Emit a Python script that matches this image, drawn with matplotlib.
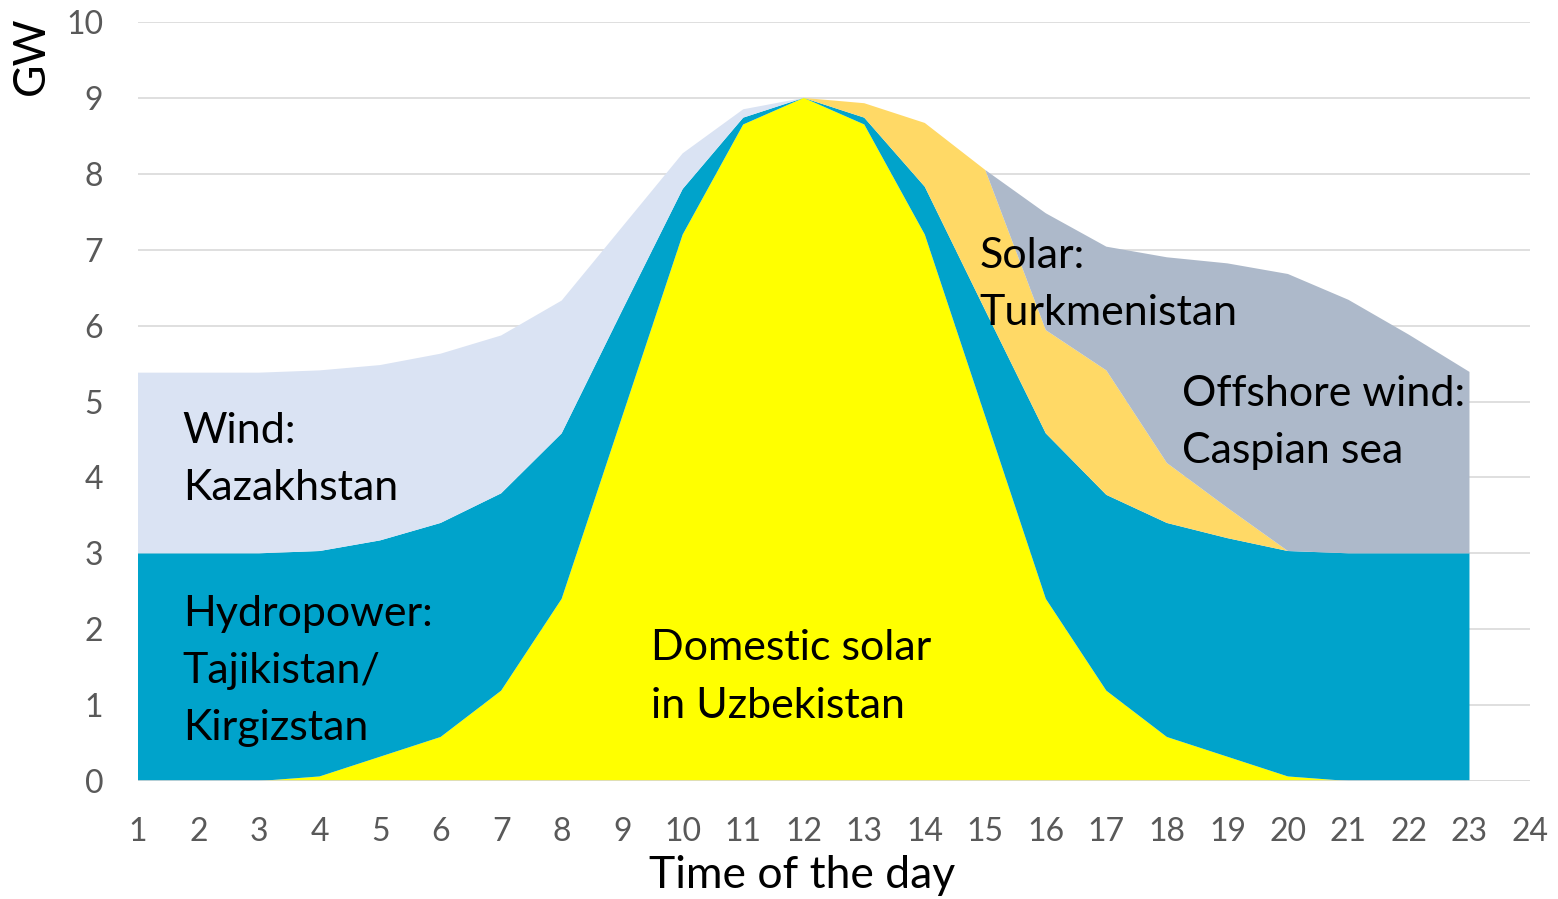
import matplotlib
matplotlib.use("Agg")
import matplotlib.pyplot as plt

# hour of the day
hours = list(range(1, 24))

domestic_solar = [0, 0, 0, 0.06, 0.32, 0.58, 1.19, 2.4, 4.8, 7.2, 8.65, 9.0,
                  8.65, 7.2, 4.8, 2.4, 1.19, 0.58, 0.32, 0.06, 0, 0, 0]
hydropower = [3.0, 3.0, 3.0, 2.97, 2.85, 2.82, 2.6, 2.18, 1.4, 0.6, 0.09, 0,
              0.09, 0.63, 1.4, 2.18, 2.58, 2.82, 2.88, 2.97, 3.0, 3.0, 3.0]
wind_kz = [2.38, 2.38, 2.38, 2.38, 2.31, 2.23, 2.08, 1.75, 1.1, 0.47, 0.11, 0,
           0, 0, 0, 0, 0, 0, 0, 0, 0, 0, 0]
solar_tm = [0, 0, 0, 0, 0, 0, 0, 0, 0, 0, 0, 0,
            0.19, 0.84, 1.85, 1.36, 1.64, 0.79, 0.4, 0, 0, 0, 0]
offshore = [0, 0, 0, 0, 0, 0, 0, 0, 0, 0, 0, 0,
            0, 0, 0, 1.54, 1.63, 2.71, 3.22, 3.65, 3.34, 2.88, 2.39]

colors = ["#FFFF00", "#00A3CB", "#DAE3F3", "#FFD966", "#ADB9CA"]
GREY = "#595959"

plt.rcParams["font.family"] = ["Lato", "DejaVu Sans"]

fig = plt.figure(figsize=(15.58, 8.99), dpi=100)
ax = fig.add_axes([138 / 1558, 1 - 781 / 899, 1392 / 1558, 759 / 899])

ax.stackplot(hours, domestic_solar, hydropower, wind_kz, solar_tm, offshore,
             colors=colors, linewidth=0, zorder=2)

ax.set_xlim(1, 24)
ax.set_ylim(0, 10)
ax.set_xticks(range(1, 25))
ax.set_yticks(range(0, 11))
ax.grid(axis="y", color="#D9D9D9", linewidth=1.2, zorder=0)
ax.set_axisbelow(True)
ax.axhline(0, color="#D9D9D9", linewidth=1.2, zorder=3)
for s in ax.spines.values():
    s.set_visible(False)
ax.tick_params(length=0, labelsize=23, labelcolor=GREY)
ax.tick_params(axis="y", pad=25)
ax.tick_params(axis="x", pad=26)

fs = 31
ls = 1.62
ax.text(1.74, 4.24, "Wind:\nKazakhstan", fontsize=fs, va="center", ha="left",
        linespacing=ls, zorder=4)
ax.text(1.74, 1.45, "Hydropower:\nTajikistan/\nKirgizstan", fontsize=fs,
        va="center", ha="left", linespacing=ls, zorder=4)
ax.text(9.48, 1.37, "Domestic solar\nin Uzbekistan", fontsize=fs, va="center",
        ha="left", linespacing=ls, zorder=4)
ax.text(14.9, 6.54, "Solar:\nTurkmenistan", fontsize=fs, va="center",
        ha="left", linespacing=ls, zorder=4)
ax.text(18.25, 4.72, "Offshore wind:\nCaspian sea", fontsize=fs, va="center",
        ha="left", linespacing=ls, zorder=4)

fig.text(802 / 1558, 1 - 888 / 899, "Time of the day", fontsize=32,
         ha="center", va="baseline")
fig.text(31 / 1558, 1 - 56 / 899, "GW", fontsize=32, rotation=90,
         ha="center", va="center")

fig.savefig("out.png", dpi=100)
